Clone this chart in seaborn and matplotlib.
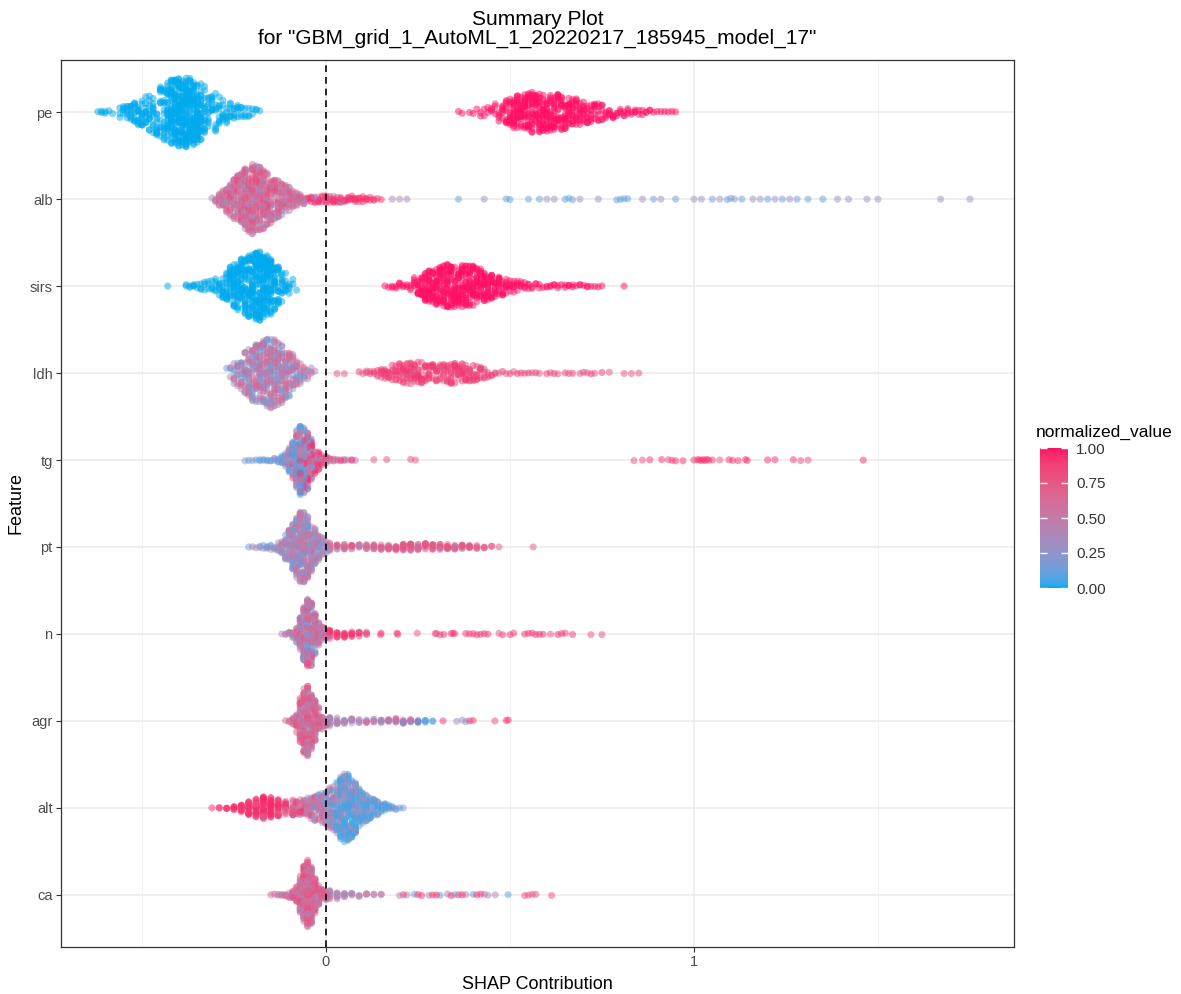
import numpy as np
import pandas as pd
import matplotlib
matplotlib.use("Agg")
import matplotlib.pyplot as plt
from matplotlib.colors import ListedColormap, Normalize
from matplotlib.cm import ScalarMappable
from matplotlib.ticker import FixedLocator
import seaborn as sns

# ---------------------------------------------------------------- data
# Each group: SHAP values (x lists) with how many rows sit at each value (n lists;
# a count list shorter than its x list means the remaining counts are zero).
features = ["pe", "alb", "sirs", "ldh", "tg", "pt", "n", "agr", "alt", "ca"]
title_lines = ["Summary Plot", 'for "GBM_grid_1_AutoML_1_20220217_185945_model_17"']
cbar_ticks = [0.0, 0.25, 0.5, 0.75, 1.0]
cbar_labels = ["0.00", "0.25", "0.50", "0.75", "1.00"]
x_ticks = [0, 1]

# pe
pe_lo_x = [-0.62, -0.61, -0.60, -0.59, -0.58, -0.57, -0.56, -0.55, -0.54, -0.53, -0.52, -0.51,
           -0.50, -0.49, -0.48, -0.47, -0.46, -0.45, -0.44, -0.43, -0.42, -0.41, -0.40, -0.39,
           -0.38, -0.37, -0.36, -0.35, -0.34, -0.33, -0.32, -0.31, -0.30, -0.29, -0.28, -0.27,
           -0.26, -0.25, -0.24, -0.23, -0.22, -0.21, -0.20, -0.19, -0.18]
pe_lo_n = [1, 2, 2, 1, 1, 0, 3, 4, 6, 8, 9, 10, 10, 10, 10, 10, 11, 12, 16, 24, 34, 40, 42, 44,
           42, 42, 40, 36, 24, 14, 10, 9, 8, 8, 7, 6, 6, 5, 5, 4, 3, 3, 2, 2, 1]
pe_hi_x = [0.36, 0.37, 0.38, 0.39, 0.40, 0.41, 0.42, 0.43, 0.44, 0.45, 0.46, 0.47, 0.48, 0.49,
           0.50, 0.51, 0.52, 0.53, 0.54, 0.55, 0.56, 0.57, 0.58, 0.59, 0.60, 0.61, 0.62, 0.63,
           0.64, 0.65, 0.66, 0.67, 0.68, 0.69, 0.70, 0.71, 0.72, 0.73, 0.74, 0.75, 0.76, 0.77,
           0.78, 0.79, 0.80, 0.81, 0.82, 0.83, 0.84, 0.85, 0.86, 0.87, 0.88, 0.89, 0.90, 0.91,
           0.92, 0.93, 0.94, 0.95]
pe_hi_n = [1, 1, 0, 1, 1, 1, 2, 2, 2, 3, 3, 4, 6, 9, 13, 16, 18, 18, 19, 18, 19, 18, 19, 18, 18,
           16, 16, 16, 15, 14, 13, 12, 11, 10, 9, 8, 7, 7, 6, 5, 4, 4, 4, 3, 3, 3, 3, 2, 3, 2, 2,
           2, 2, 1, 1, 1, 1, 1, 1, 1]

# alb
alb_core_x = [-0.31, -0.30, -0.29, -0.28, -0.27, -0.26, -0.25, -0.24, -0.23, -0.22, -0.21, -0.20,
              -0.19, -0.18, -0.17, -0.16, -0.15, -0.14, -0.13, -0.12, -0.11, -0.10, -0.09, -0.08,
              -0.07, -0.06]
alb_core_lav = [1, 2, 3, 4, 6, 7, 9, 10, 12, 13, 14, 15, 15, 14, 12, 11, 10, 9, 8, 7, 6, 5, 4, 3, 3, 2]
alb_core_mauve = [0, 1, 3, 4, 6, 8, 9, 11, 12, 14, 15, 15, 15, 14, 12, 12, 11, 9, 9, 7, 6, 6, 5, 4, 3, 3]
alb_core_pink = [0, 1, 2, 3, 4, 6, 8, 9, 11, 12, 14, 15, 14, 13, 12, 11, 9, 9, 7, 6, 6, 4, 3, 3, 2, 1]
alb_tail_x = [-0.05, -0.04, -0.03, -0.02, -0.01, 0.00, 0.01, 0.02, 0.03, 0.04, 0.05, 0.06, 0.07,
              0.08, 0.09, 0.10, 0.11, 0.12, 0.13, 0.14, 0.15]
alb_tail_red = [3, 4, 3, 4, 3, 4, 3, 4, 3, 4, 3, 4, 4, 4, 3, 3, 3, 2, 2, 1, 1]
alb_tail_lav_x = [-0.05, -0.03, -0.02, 0.00, 0.02, 0.04, 0.18, 0.20, 0.22]
alb_far_blue = [0.36, 0.49, 0.50, 0.55, 0.58, 0.65, 0.66, 0.67, 0.79, 0.80, 0.81, 0.82, 0.89,
                0.95, 1.05, 1.09, 1.10, 1.13, 1.20, 1.24, 1.28, 1.31, 1.35]
alb_far_lav = [0.43, 0.60, 0.62, 0.69, 0.74, 0.86, 0.91, 1.00, 1.02, 1.07, 1.11, 1.16, 1.18,
               1.22, 1.26, 1.39, 1.42, 1.47, 1.50, 1.67, 1.75]

# sirs
sirs_lo_x = [-0.43, -0.38, -0.37, -0.36, -0.35, -0.34, -0.33, -0.32, -0.31, -0.30, -0.29, -0.28,
             -0.27, -0.26, -0.25, -0.24, -0.23, -0.22, -0.21, -0.20, -0.19, -0.18, -0.17, -0.16,
             -0.15, -0.14, -0.13, -0.12, -0.11, -0.10, -0.09, -0.08]
sirs_lo_n = [1, 2, 2, 3, 2, 3, 3, 3, 4, 5, 6, 10, 15, 20, 23, 24, 25, 26, 28, 34, 40, 43, 43, 38,
             33, 23, 16, 10, 7, 4, 2, 1]
sirs_hi_x = [0.16, 0.17, 0.18, 0.19, 0.20, 0.21, 0.22, 0.23, 0.24, 0.25, 0.26, 0.27, 0.28, 0.29,
             0.30, 0.31, 0.32, 0.33, 0.34, 0.35, 0.36, 0.37, 0.38, 0.39, 0.40, 0.41, 0.42, 0.43,
             0.44, 0.45, 0.46, 0.47, 0.48, 0.49, 0.50, 0.51, 0.52, 0.53, 0.54, 0.55, 0.56, 0.57,
             0.58, 0.59, 0.60, 0.61, 0.62, 0.63, 0.64, 0.65, 0.66, 0.67, 0.68, 0.69, 0.70, 0.71,
             0.72, 0.73, 0.74, 0.75, 0.81]
sirs_hi_n = [1, 1, 2, 2, 3, 2, 2, 3, 5, 9, 13, 16, 18, 19, 18, 19, 21, 21, 21, 21, 22, 22, 21, 21,
             19, 18, 16, 16, 13, 13, 10, 10, 7, 7, 5, 5, 4, 4, 3, 3, 2, 2, 2, 1, 2, 2, 2, 2, 1, 2,
             2, 2, 1, 2, 1, 2, 1, 1, 1, 1, 1]

# ldh
ldh_core_x = [-0.27, -0.26, -0.25, -0.24, -0.23, -0.22, -0.21, -0.20, -0.19, -0.18, -0.17, -0.16,
              -0.15, -0.14, -0.13, -0.12, -0.11, -0.10, -0.09, -0.08, -0.07, -0.06, -0.05, -0.04,
              -0.03]
ldh_core_blue = [1, 1, 2, 2, 3, 3, 4, 4, 5, 5, 5, 6, 6, 5, 5, 4, 4, 3, 3, 2, 1, 1]
ldh_core_lav = [0, 1, 3, 4, 6, 8, 9, 11, 13, 13, 14, 14, 14, 14, 13, 12, 11, 9, 8, 6, 4, 3, 3, 2, 1]
ldh_core_pink = [0, 1, 2, 3, 4, 6, 8, 9, 10, 11, 12, 11, 11, 12, 11, 10, 9, 9, 6, 5, 3, 2, 1, 1]
ldh_tail_x = [0.03, 0.05, 0.09, 0.10, 0.11, 0.12, 0.13, 0.14, 0.15, 0.16, 0.17, 0.18, 0.19, 0.20,
              0.21, 0.22, 0.23, 0.24, 0.25, 0.26, 0.27, 0.28, 0.29, 0.30, 0.31, 0.32, 0.33, 0.34,
              0.35, 0.36, 0.37, 0.38, 0.39, 0.40, 0.41, 0.42, 0.43, 0.44, 0.45, 0.46, 0.47, 0.48,
              0.49, 0.50]
ldh_tail_pink = [1, 1, 0, 1, 1, 1, 1, 2, 2, 3, 3, 3, 3, 4, 4, 5, 6, 6, 5, 5, 4, 4, 4, 3, 4, 3, 4,
                 4, 4, 4, 4, 4, 4, 3, 3, 3, 2, 1, 1, 1, 1, 0, 1, 0]
ldh_tail_red = [0, 0, 1, 0, 1, 1, 1, 1, 3, 3, 3, 3, 4, 4, 5, 5, 5, 5, 5, 5, 4, 4, 3, 4, 3, 4, 4,
                5, 5, 5, 5, 5, 4, 4, 3, 3, 2, 2, 1, 1, 0, 1, 0, 1]
ldh_far_red = [0.52, 0.53, 0.55, 0.57, 0.60, 0.62, 0.65, 0.67, 0.70, 0.72, 0.75]
ldh_far_pink = [0.51, 0.54, 0.56, 0.58, 0.61, 0.63, 0.66, 0.69, 0.71, 0.73, 0.77, 0.81, 0.83, 0.85]

# tg
tg_core_x = [-0.22, -0.21, -0.20, -0.19, -0.18, -0.17, -0.16, -0.15, -0.14, -0.13, -0.12, -0.11,
             -0.10, -0.09, -0.08, -0.07, -0.06, -0.05, -0.04, -0.03, -0.02, -0.01, 0.00, 0.01,
             0.02, 0.03, 0.04, 0.05, 0.06, 0.07, 0.08]
tg_core_blue = [0, 1, 0, 1, 1, 1, 1, 1, 1, 2, 3, 4, 6, 12, 18, 21, 15, 6, 2]
tg_core_lav = [1, 0, 1, 0, 1, 1, 1, 1, 2, 2, 4, 6, 9, 13, 18, 20, 18, 15, 9, 3, 2, 1, 1, 1, 1, 1,
               0, 1, 0, 1]
tg_core_mauve = [0, 0, 0, 0, 0, 0, 0, 0, 0, 0, 0, 1, 3, 5, 8, 10, 12, 12, 10, 7, 4, 3, 1, 1, 1, 1,
                 1, 0, 1, 0, 1]
tg_core_red = [0, 0, 0, 0, 0, 0, 0, 0, 0, 0, 0, 0, 1, 3, 5, 6, 9, 15, 15, 13, 9, 4, 3, 1, 1, 0,
               1, 1, 0, 1]
tg_mid = [0.13, 0.165, 0.23, 0.243]
tg_far_red = [0.88, 0.912, 0.94, 0.95, 0.97, 1.0, 1.01, 1.015, 1.02, 1.025, 1.03, 1.035,
              1.04, 1.05, 1.095, 1.105, 1.12, 1.14, 1.145, 1.20, 1.22, 1.27, 1.46]
tg_far_pink = [0.837, 0.86, 0.93, 1.07, 1.29, 1.31]

# pt
pt_core_x = [-0.21, -0.20, -0.19, -0.18, -0.17, -0.16, -0.15, -0.14, -0.13, -0.12, -0.11, -0.10,
             -0.09, -0.08, -0.07, -0.06, -0.05, -0.04, -0.03, -0.02, -0.01, 0.00]
pt_core_blue = [1, 0, 0, 1, 1, 1, 1, 1, 1, 2, 3, 4, 7, 9, 12, 11, 9, 6, 4, 3, 2, 1]
pt_core_lav = [0, 1, 1, 1, 1, 1, 2, 2, 3, 4, 7, 12, 18, 24, 28, 27, 24, 18, 12, 9, 5, 3]
pt_core_mauve = [0, 0, 0, 0, 0, 1, 0, 0, 1, 3, 4, 6, 10, 15, 17, 18, 15, 12, 8, 6, 4, 2]
pt_tail_x = [0.01, 0.03, 0.05, 0.07, 0.09, 0.11, 0.13, 0.15, 0.17, 0.19, 0.21, 0.23, 0.25,
             0.27, 0.29, 0.31, 0.33, 0.35, 0.37, 0.39, 0.41, 0.43, 0.45, 0.47, 0.563]
pt_tail_lav = [6, 5, 4, 4, 3, 3, 3, 3, 3, 3, 3, 2, 2, 2, 1, 1, 1, 1, 1, 1]
pt_tail_pink = [3, 3, 3, 3, 3, 3, 4, 4, 5, 6, 8, 9, 8, 7, 7, 7, 8, 7, 6, 5, 4, 3, 2, 1, 1]

# n
n_core_x = [-0.12, -0.11, -0.10, -0.09, -0.08, -0.07, -0.06, -0.05, -0.04, -0.03, -0.02, -0.01, 0.00]
n_core_blue = [0, 0, 0, 1, 2, 3, 6, 8, 5, 3, 1]
n_core_lav = [1, 1, 2, 2, 6, 10, 16, 21, 19, 12, 7, 4, 3]
n_core_mauve = [0, 1, 1, 2, 4, 9, 15, 19, 18, 12, 6, 4, 3]
n_core_pink = [0, 0, 1, 1, 3, 7, 10, 15, 15, 9, 6, 4, 3]
n_tail_x = [0.01, 0.03, 0.05, 0.07, 0.09, 0.11]
n_tail_pink = [5, 4, 3, 3, 2, 1]
n_tail_red = [5, 4, 4, 3, 3, 2]
n_far_red = [0.148, 0.15, 0.193, 0.195, 0.30, 0.31, 0.32, 0.34, 0.345, 0.35, 0.38, 0.39,
             0.40, 0.41, 0.42, 0.43, 0.44, 0.48, 0.50, 0.51, 0.54, 0.55, 0.56, 0.57, 0.58,
             0.59, 0.63, 0.64, 0.65, 0.67]
n_far_pink = [0.248, 0.297, 0.47, 0.61, 0.72, 0.75]

# agr
agr_core_x = [-0.11, -0.10, -0.09, -0.08, -0.07, -0.06, -0.05, -0.04, -0.03, -0.02, -0.01, 0.00]
agr_core_lav = [0, 1, 2, 3, 9, 13, 15, 12, 9, 6, 4, 3]
agr_core_mauve = [1, 0, 3, 6, 15, 22, 22, 18, 13, 8, 4, 3]
agr_core_pink = [0, 1, 2, 6, 12, 18, 19, 15, 10, 7, 4, 3]
agr_tail_x = [0.01, 0.03, 0.05, 0.07, 0.09, 0.11, 0.13, 0.15, 0.17, 0.19, 0.21, 0.23, 0.25, 0.27, 0.29]
agr_tail_lav = [8, 7, 5, 4, 3, 2, 2, 2, 2, 2, 2, 1]
agr_tail_mauve = [2, 2, 2, 2, 1, 1, 1, 1, 1, 1, 1, 1]
agr_tail_red = [0, 0, 0, 0, 0, 1, 1, 1, 1, 2, 2, 1, 1]
agr_tail_blue = [0, 0, 0, 0, 0, 0, 0, 1, 1, 1, 1, 2, 4, 4, 2]
agr_far_red = [0.318, 0.39, 0.40, 0.49, 0.495]
agr_far_lav = [0.355, 0.37]
agr_far_pink = [0.459]
agr_far_blue = [0.38]

# alt
alt_left_x = [-0.31, -0.29, -0.27, -0.25, -0.23, -0.21, -0.19, -0.17, -0.15, -0.13, -0.11, -0.09]
alt_left_red = [1, 2, 3, 5, 8, 14, 20, 23, 20, 14, 8, 4]
alt_left_pink = [0, 0, 0, 1, 3, 6, 8, 11, 11, 10, 7, 7]
alt_left_mauve = [0, 0, 0, 0, 0, 0, 0, 0, 0, 1, 4, 7]
alt_right_x = [-0.08, -0.07, -0.06, -0.05, -0.04, -0.03, -0.02, -0.01, 0.00, 0.01, 0.02, 0.03,
               0.04, 0.05, 0.06, 0.07, 0.08, 0.09, 0.10, 0.11, 0.12, 0.13, 0.14, 0.15, 0.16,
               0.17, 0.18, 0.19, 0.20, 0.21]
alt_right_red = [1, 1, 1]
alt_right_pink = [3, 3, 3, 3, 3, 3, 2, 2, 1, 1, 1]
alt_right_mauve = [5, 6, 7, 8, 9, 10, 11, 11, 11, 11, 10, 7, 4, 4, 3, 2, 1]
alt_right_lav = [1, 1, 2, 3, 4, 5, 6, 8, 9, 10, 10, 10, 13, 17, 16, 14, 12, 10, 8, 7, 5, 4, 4, 3,
                 2, 1, 1, 1, 0, 1]
alt_right_blue = [0, 0, 0, 0, 0, 1, 1, 2, 4, 6, 9, 18, 30, 37, 34, 28, 22, 18, 13, 12, 8, 8, 6,
                  5, 4, 3, 2, 1, 1]

# ca
ca_core_x = [-0.15, -0.14, -0.13, -0.12, -0.11, -0.10, -0.09, -0.08, -0.07, -0.06, -0.05, -0.04,
             -0.03, -0.02, -0.01, 0.00]
ca_core_lav = [0, 0, 1, 0, 1, 1, 2, 3, 8, 12, 15, 12, 9, 5, 3, 3]
ca_core_mauve = [1, 0, 1, 1, 1, 2, 3, 6, 14, 21, 26, 20, 12, 8, 5, 3]
ca_core_pink = [0, 1, 0, 1, 1, 1, 3, 6, 12, 21, 23, 20, 12, 6, 4, 3]
ca_tail_x = [0.01, 0.03, 0.05, 0.07, 0.09, 0.11, 0.13, 0.15]
ca_tail_lav = [7, 6, 5, 3, 2, 2, 1, 1]
ca_tail_mauve = [2, 2, 1, 1, 1, 1, 1, 1]
ca_far_red = [0.21, 0.25, 0.26, 0.29, 0.30, 0.34, 0.36, 0.37, 0.41, 0.42]
ca_far_blue = [0.24, 0.31, 0.35, 0.40, 0.495]
ca_far_lav = [0.20, 0.22, 0.28, 0.33, 0.38, 0.43, 0.44, 0.46]
ca_far_pink = [0.54, 0.55, 0.56, 0.57, 0.613]

# normalized feature value carried by each colour group
V_BLUE, V_BLUE2, V_LAV, V_MAUVE, V_PINK, V_RED, V_TOP = 0.05, 0.12, 0.35, 0.57, 0.78, 0.92, 1.0

groups = [
    ("pe", 0.0, pe_lo_x, pe_lo_n), ("pe", V_TOP, pe_hi_x, pe_hi_n),
    ("alb", 0.4, alb_core_x, alb_core_lav), ("alb", 0.6, alb_core_x, alb_core_mauve),
    ("alb", 0.8, alb_core_x, alb_core_pink), ("alb", V_RED, alb_tail_x, alb_tail_red),
    ("alb", V_LAV, alb_tail_lav_x, None), ("alb", V_BLUE2, alb_far_blue, None),
    ("alb", 0.3, alb_far_lav, None),
    ("sirs", 0.0, sirs_lo_x, sirs_lo_n), ("sirs", V_TOP, sirs_hi_x, sirs_hi_n),
    ("ldh", V_BLUE2, ldh_core_x, ldh_core_blue), ("ldh", V_LAV, ldh_core_x, ldh_core_lav),
    ("ldh", 0.65, ldh_core_x, ldh_core_pink), ("ldh", V_PINK, ldh_tail_x, ldh_tail_pink),
    ("ldh", V_RED, ldh_tail_x, ldh_tail_red), ("ldh", V_RED, ldh_far_red, None),
    ("ldh", V_PINK, ldh_far_pink, None),
    ("tg", V_BLUE, tg_core_x, tg_core_blue), ("tg", 0.3, tg_core_x, tg_core_lav),
    ("tg", V_MAUVE, tg_core_x, tg_core_mauve), ("tg", V_RED, tg_core_x, tg_core_red),
    ("tg", V_PINK, tg_mid, None), ("tg", V_RED, tg_far_red, None), ("tg", V_PINK, tg_far_pink, None),
    ("pt", V_BLUE2, pt_core_x, pt_core_blue), ("pt", V_LAV, pt_core_x, pt_core_lav),
    ("pt", V_MAUVE, pt_core_x, pt_core_mauve), ("pt", 0.45, pt_tail_x, pt_tail_lav),
    ("pt", 0.75, pt_tail_x, pt_tail_pink),
    ("n", V_BLUE2, n_core_x, n_core_blue), ("n", V_LAV, n_core_x, n_core_lav),
    ("n", V_MAUVE, n_core_x, n_core_mauve), ("n", V_PINK, n_core_x, n_core_pink),
    ("n", V_PINK, n_tail_x, n_tail_pink), ("n", V_RED, n_tail_x, n_tail_red),
    ("n", V_RED, n_far_red, None), ("n", V_PINK, n_far_pink, None),
    ("agr", 0.4, agr_core_x, agr_core_lav), ("agr", 0.6, agr_core_x, agr_core_mauve),
    ("agr", V_PINK, agr_core_x, agr_core_pink), ("agr", V_LAV, agr_tail_x, agr_tail_lav),
    ("agr", 0.6, agr_tail_x, agr_tail_mauve), ("agr", V_RED, agr_tail_x, agr_tail_red),
    ("agr", 0.08, agr_tail_x, agr_tail_blue), ("agr", V_RED, agr_far_red, None),
    ("agr", V_LAV, agr_far_lav, None), ("agr", 0.8, agr_far_pink, None),
    ("agr", 0.08, agr_far_blue, None),
    ("alt", 0.95, alt_left_x, alt_left_red), ("alt", V_PINK, alt_left_x, alt_left_pink),
    ("alt", 0.55, alt_left_x, alt_left_mauve),
    ("alt", 0.95, alt_right_x, alt_right_red), ("alt", V_PINK, alt_right_x, alt_right_pink),
    ("alt", 0.55, alt_right_x, alt_right_mauve), ("alt", 0.3, alt_right_x, alt_right_lav),
    ("alt", V_BLUE, alt_right_x, alt_right_blue),
    ("ca", 0.4, ca_core_x, ca_core_lav), ("ca", 0.6, ca_core_x, ca_core_mauve),
    ("ca", 0.8, ca_core_x, ca_core_pink), ("ca", 0.38, ca_tail_x, ca_tail_lav),
    ("ca", 0.55, ca_tail_x, ca_tail_mauve), ("ca", V_RED, ca_far_red, None),
    ("ca", 0.1, ca_far_blue, None), ("ca", 0.4, ca_far_lav, None), ("ca", V_PINK, ca_far_pink, None),
]

rows = []
for feat, val, xs, ns in groups:
    if ns is None:
        ns = [1] * len(xs)
    for x, n in zip(xs, ns):
        rows.extend([(feat, x, val)] * n)
df = pd.DataFrame(rows, columns=["feature", "shap", "normalized_value"])

# ---------------------------------------------------------------- colour scale (ggplot-like Lab gradient)
LOW, HIGH = "#00AAEE", "#FF1166"
WHITE = np.array([0.95047, 1.0, 1.08883])
M = np.array([[0.4124564, 0.3575761, 0.1804375],
              [0.2126729, 0.7151522, 0.0721750],
              [0.0193339, 0.1191920, 0.9503041]])


def hex_to_lab(h):
    rgb = np.array([int(h[i:i + 2], 16) / 255 for i in (1, 3, 5)])
    lin = np.where(rgb <= 0.04045, rgb / 12.92, ((rgb + 0.055) / 1.055) ** 2.4)
    xyz = M @ lin / WHITE
    d = 6 / 29
    f = np.where(xyz > d ** 3, np.cbrt(xyz), xyz / (3 * d * d) + 4 / 29)
    return np.array([116 * f[1] - 16, 500 * (f[0] - f[1]), 200 * (f[1] - f[2])])


def lab_to_rgb(lab):
    L, a, b = lab
    fy = (L + 16) / 116
    f = np.array([fy + a / 500, fy, fy - b / 200])
    d = 6 / 29
    xyz = np.where(f > d, f ** 3, 3 * d * d * (f - 4 / 29)) * WHITE
    lin = np.clip(np.linalg.solve(M, xyz), 0, 1)
    srgb = np.where(lin <= 0.0031308, 12.92 * lin, 1.055 * lin ** (1 / 2.4) - 0.055)
    return np.clip(srgb, 0, 1)


lab_lo, lab_hi = hex_to_lab(LOW), hex_to_lab(HIGH)
cmap = ListedColormap([lab_to_rgb(lab_lo + t * (lab_hi - lab_lo)) for t in np.linspace(0, 1, 256)])

# ---------------------------------------------------------------- quasirandom-like spread (density scaled)
def nrd0(x):
    sd = np.std(x, ddof=1)
    q75, q25 = np.percentile(x, [75, 25])
    lo = min(sd, (q75 - q25) / 1.34) if q75 > q25 else sd
    return 0.9 * lo * len(x) ** -0.2


df["w"] = 0.0
for f in features:
    sel = df["feature"] == f
    x = df.loc[sel, "shap"].to_numpy()
    bw = 0.5 * nrd0(x)
    dens = np.exp(-0.5 * ((x[:, None] - x[None, :]) / bw) ** 2).sum(axis=1)
    df.loc[sel, "w"] = np.round(0.4 * dens / dens.max() / 0.01) * 0.01

df = df.sample(frac=1.0, random_state=5).reset_index(drop=True)  # draw order only

# ---------------------------------------------------------------- figure
plt.rcParams["font.family"] = ["Liberation Sans", "DejaVu Sans"]
fig = plt.figure(figsize=(11.81, 9.94), dpi=100)
W, H = 1181, 994
L_, R_, T_, B_ = 61, 1014, 60, 947
ax = fig.add_axes([L_ / W, 1 - B_ / H, (R_ - L_) / W, (B_ - T_) / H])

np.random.seed(11)
for lev in sorted(df["w"].unique()):
    sub = df[df["w"] == lev]
    sns.stripplot(data=sub, x="shap", y="feature", hue="normalized_value", order=features,
                  palette=cmap, hue_norm=(0, 1), jitter=float(lev), size=5.1, alpha=0.5,
                  linewidth=0, edgecolor="none", legend=False, ax=ax, orient="h", zorder=2)

ax.axvline(0, color="black", lw=1.2, ls=(0, (4, 3)), zorder=3)

ax.set_xlim((L_ - 326) / 368, (R_ - 326) / 368)
ax.set_ylim(len(features) - 0.4, -0.6)
ax.set_xticks(x_ticks)
ax.set_xticklabels([str(t) for t in x_ticks])
ax.xaxis.set_minor_locator(FixedLocator([-0.5, 0.5, 1.5]))
ax.set_yticks(range(len(features)))
ax.set_yticklabels(features)
ax.grid(which="major", color="#EBEBEB", lw=1.1)
ax.grid(which="minor", axis="x", color="#F3F3F3", lw=0.6)
ax.set_axisbelow(True)
ax.tick_params(which="major", length=3.5, width=0.8, color="#333333", labelcolor="#4D4D4D",
               labelsize=10.5, pad=2.5)
ax.tick_params(which="minor", length=0)
for s in ax.spines.values():
    s.set_color("#333333")
    s.set_linewidth(0.9)
ax.set_xlabel("SHAP Contribution", fontsize=13, color="black", labelpad=5)
ax.set_ylabel("Feature", fontsize=13, color="black", labelpad=4)

cx = (L_ + R_) / 2 / W
fig.text(cx, 1 - 25 / H, title_lines[0], ha="center", va="baseline", fontsize=15)
fig.text(cx, 1 - 43.5 / H, title_lines[1], ha="center", va="baseline", fontsize=15)

# colour bar legend
cax = fig.add_axes([1040 / W, 1 - 588 / H, 28 / W, 140 / H])
cb = fig.colorbar(ScalarMappable(norm=Normalize(0, 1), cmap=cmap), cax=cax, ticks=cbar_ticks)
cb.ax.set_yticklabels(cbar_labels)
cb.outline.set_visible(False)
cax.tick_params(left=True, right=True, labelleft=False, labelright=True, direction="in",
                color="white", length=5, width=1, labelsize=11, labelcolor="#333333", pad=6)
fig.text(1036 / W, 1 - 432 / H, "normalized_value", ha="left", va="center", fontsize=12.5)

fig.savefig("out.png", dpi=100, facecolor="white")
